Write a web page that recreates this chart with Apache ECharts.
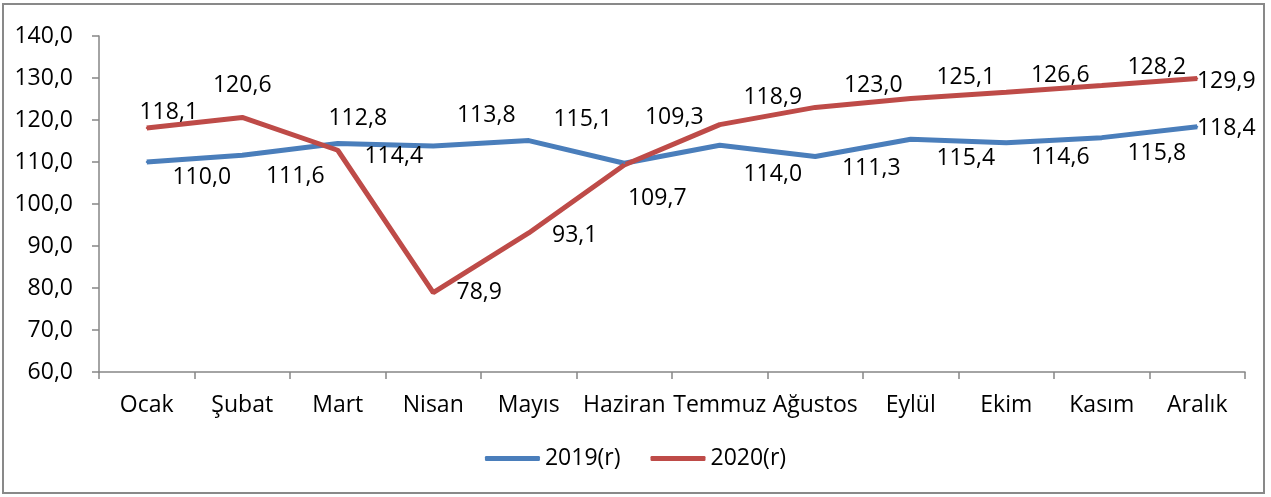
<!DOCTYPE html>
<html>
<head>
<meta charset="utf-8">
<script src="https://cdn.jsdelivr.net/npm/echarts@6/dist/echarts.min.js"></script>
<style>
html,body{margin:0;padding:0;background:#fff;}
#chart{width:1271px;height:497px;}
</style>
</head>
<body>
<div id="chart"></div>
<script>
var categories = ['Ocak','Şubat','Mart','Nisan','Mayıs','Haziran','Temmuz','Ağustos','Eylül','Ekim','Kasım','Aralık'];
var series2019 = [110.0,111.6,114.4,113.8,115.1,109.7,114.0,111.3,115.4,114.6,115.8,118.4];
var series2020 = [118.1,120.6,112.8,78.9,93.1,109.3,118.9,123.0,125.1,126.6,128.2,129.9];
var seriesNames = ['2019(r)','2020(r)'];
var yTicks = {min:60, max:140, interval:10};

// label layout offsets (pixels, relative to point) – layout only
var labelShift2019 = [[55,15],[53,21],[56,13],[53,-31],[54,-21],[33,35],[53,29],[56,12],[55,19],[54,15],[55,16],[29,2]];
var labelShift2020 = [[22,-16],[0,-32],[20,-32],[46,0],[46,2],[50,-47],[53,-27],[58,-22],[55,-21],[54,-17],[55,-18],[29,3]];

var FONT = 'Open Sans';
var FS = 23;
function fmt(v){ return v.toFixed(1).replace('.', ','); }
function buildData(vals, shifts){
  return vals.map(function(v,i){
    return {value:v, label:{offset:shifts[i]}};
  });
}
function mkSeries(name, vals, shifts, color){
  return {
    name:name, type:'line', data:buildData(vals, shifts),
    symbol:'circle', symbolSize:2, showSymbol:true,
    lineStyle:{color:color, width:5},
    itemStyle:{color:color},
    label:{show:true, position:'inside', align:'center', verticalAlign:'middle',
      color:'#000', fontFamily:FONT, fontSize:FS,
      formatter:function(p){return fmt(p.value);}},
    emphasis:{disabled:true}, animation:false
  };
}
var chart = echarts.init(document.getElementById('chart'));
chart.setOption({
  animation:false,
  graphic:[{type:'rect', shape:{x:3,y:4,width:1261,height:489}, style:{fill:'none', stroke:'#898989', lineWidth:2}, silent:true}],
  grid:{left:99, right:26, top:36, bottom:125},
  legend:{bottom:22, left:'center', itemWidth:55, itemHeight:5, itemGap:30, icon:'roundRect',
    textStyle:{fontFamily:FONT, fontSize:FS, color:'#000'}, data:seriesNames},
  xAxis:{type:'category', data:categories, boundaryGap:true,
    axisLine:{lineStyle:{color:'#868686', width:1.5}},
    axisTick:{show:true, length:7, interval:0, lineStyle:{color:'#868686', width:1.5}},
    axisLabel:{interval:0, margin:22, color:'#000', fontFamily:FONT, fontSize:FS}},
  yAxis:{type:'value', min:yTicks.min, max:yTicks.max, interval:yTicks.interval,
    axisLine:{show:true, lineStyle:{color:'#868686', width:1.5}},
    axisTick:{show:true, length:7, lineStyle:{color:'#868686', width:1.5}},
    splitLine:{show:false},
    axisLabel:{margin:26, color:'#000', fontFamily:FONT, fontSize:FS, formatter:function(v){return fmt(v);}}},
  series:[
    mkSeries(seriesNames[0], series2019, labelShift2019, '#4A7EBB'),
    mkSeries(seriesNames[1], series2020, labelShift2020, '#BE4B48')
  ]
});
</script>
</body>
</html>
